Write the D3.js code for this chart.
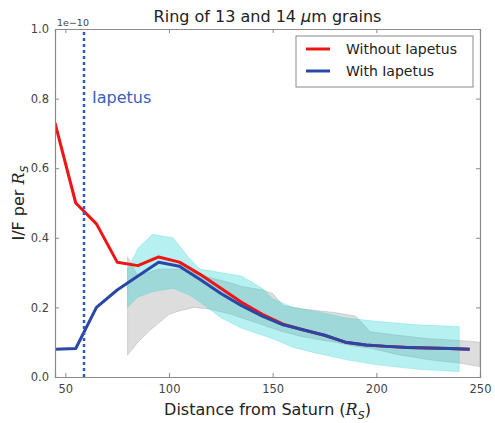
<!DOCTYPE html>
<html lang="en">
  <head>
    <meta charset="UTF-8" />
    <title>Ring of 13 and 14 um grains</title>
    <script src="https://d3js.org/d3.v7.min.js"></script>
    <style>
      body {
        margin: 0;
        background: #fff;
        font-family: "DejaVu Sans", sans-serif;
      }
      svg {
        display: block;
      }
    </style>
  </head>
  <body>
    <div id="chart"></div>
    <script>
      // values (I/F in units of 1e-10)
      const distances = [45, 55, 65, 75, 85, 95, 105, 115, 125, 135, 145, 155, 165, 175, 185, 195, 205, 215, 225, 235, 245];
      const withoutIapetus = [0.73, 0.50, 0.44, 0.33, 0.32, 0.345, 0.33, 0.295, 0.255, 0.215, 0.18, 0.152, 0.135, 0.12, 0.10, 0.092, 0.088, 0.085, 0.083, 0.082, 0.08];
      const withIapetus = [0.08, 0.082, 0.20, 0.25, 0.29, 0.33, 0.318, 0.28, 0.24, 0.205, 0.175, 0.15, 0.135, 0.12, 0.10, 0.092, 0.088, 0.085, 0.083, 0.082, 0.08];

      // gray band (without Iapetus spread)
      const grayX = [80, 85, 90, 95, 100, 105, 112, 120, 130, 135, 145, 150, 155, 165, 180, 190, 197, 210, 225, 240, 250];
      const grayHi = [0.345, 0.29, 0.30, 0.31, 0.31, 0.31, 0.30, 0.285, 0.27, 0.26, 0.25, 0.24, 0.205, 0.195, 0.185, 0.175, 0.13, 0.12, 0.11, 0.105, 0.10];
      const grayLo = [0.063, 0.10, 0.13, 0.155, 0.18, 0.19, 0.20, 0.195, 0.18, 0.17, 0.15, 0.14, 0.13, 0.115, 0.10, 0.088, 0.083, 0.065, 0.05, 0.04, 0.03];

      // cyan band (with Iapetus spread)
      const cyanX = [80, 85, 92, 102, 110, 115, 125, 135, 145, 150, 160, 170, 185, 200, 220, 240];
      const cyanHi = [0.31, 0.37, 0.41, 0.40, 0.34, 0.31, 0.30, 0.29, 0.255, 0.225, 0.20, 0.19, 0.17, 0.16, 0.15, 0.145];
      const cyanLo = [0.20, 0.23, 0.245, 0.255, 0.235, 0.215, 0.17, 0.14, 0.12, 0.11, 0.085, 0.07, 0.05, 0.035, 0.022, 0.015];

      const iapetusDistance = 59;
      const xTicks = [50, 100, 150, 200, 250];
      const yTicks = [0.0, 0.2, 0.4, 0.6, 0.8, 1.0];

      const width = 495;
      const height = 423;
      const margin = { top: 29, right: 15, bottom: 46, left: 55 };

      const svg = d3
        .select("#chart")
        .append("svg")
        .attr("width", width)
        .attr("height", height)
        .style("font-family", "'DejaVu Sans', sans-serif");

      const x = d3
        .scaleLinear()
        .domain([45, 250])
        .range([margin.left, width - margin.right]);
      const y = d3
        .scaleLinear()
        .domain([0, 1])
        .range([height - margin.bottom, margin.top]);

      const clip = svg
        .append("clipPath")
        .attr("id", "plotClip")
        .append("rect")
        .attr("x", margin.left)
        .attr("y", margin.top)
        .attr("width", width - margin.left - margin.right)
        .attr("height", height - margin.top - margin.bottom);

      const plot = svg.append("g").attr("clip-path", "url(#plotClip)");

      const band = (xs, lo, hi) =>
        d3
          .area()
          .x((d, i) => x(xs[i]))
          .y0((d, i) => y(lo[i]))
          .y1((d, i) => y(hi[i]))(xs);

      plot
        .append("path")
        .attr("d", band(grayX, grayLo, grayHi))
        .attr("fill", "#bdbdbd")
        .attr("fill-opacity", 0.52)
        .attr("stroke", "#b0b0b0")
        .attr("stroke-opacity", 0.6)
        .attr("stroke-width", 0.8);

      plot
        .append("path")
        .attr("d", band(cyanX, cyanLo, cyanHi))
        .attr("fill", "#11cccc")
        .attr("fill-opacity", 0.3)
        .attr("stroke", "#11cccc")
        .attr("stroke-opacity", 0.25)
        .attr("stroke-width", 0.8);

      const line = (vals) =>
        d3
          .line()
          .x((d, i) => x(distances[i]))
          .y((d) => y(d))(vals);

      plot
        .append("path")
        .attr("d", line(withoutIapetus))
        .attr("fill", "none")
        .attr("stroke", "#f01414")
        .attr("stroke-width", 3)
        .attr("stroke-linejoin", "round");

      plot
        .append("path")
        .attr("d", line(withIapetus))
        .attr("fill", "none")
        .attr("stroke", "#2a47a6")
        .attr("stroke-width", 3)
        .attr("stroke-linejoin", "round");

      // Iapetus marker
      plot
        .append("line")
        .attr("x1", x(iapetusDistance))
        .attr("x2", x(iapetusDistance))
        .attr("y1", y(0))
        .attr("y2", y(1))
        .attr("stroke", "#2f5bbd")
        .attr("stroke-width", 2.5)
        .attr("stroke-dasharray", "3,3");

      svg
        .append("text")
        .attr("x", x(iapetusDistance) + 8)
        .attr("y", 103)
        .attr("fill", "#3a5fb8")
        .style("font-size", "16px")
        .text("Iapetus");

      // axes frame with inward ticks on all sides
      const spine = "#8a8a8a";
      const axes = [
        d3.axisBottom(x).tickValues(xTicks).tickSize(-4).tickPadding(8),
        d3.axisTop(x).tickValues(xTicks).tickSize(-4).tickFormat(""),
        d3.axisLeft(y).tickValues(yTicks).tickSize(-4).tickPadding(6).tickFormat(d3.format(".1f")),
        d3.axisRight(y).tickValues(yTicks).tickSize(-4).tickFormat(""),
      ];
      const pos = [
        `translate(0,${y(0)})`,
        `translate(0,${y(1)})`,
        `translate(${x(45)},0)`,
        `translate(${x(250)},0)`,
      ];
      axes.forEach((ax, i) => {
        const g = svg.append("g").attr("transform", pos[i]).call(ax);
        g.select(".domain").attr("stroke", spine).attr("stroke-width", 1.2);
        g.selectAll(".tick line").attr("stroke", spine);
        g.selectAll(".tick text")
          .attr("fill", "#444")
          .style("font-size", "11.5px")
          .style("font-family", "'DejaVu Sans', sans-serif");
      });

      svg
        .append("text")
        .attr("x", x(45) + 2)
        .attr("y", y(1) - 3)
        .attr("fill", "#444")
        .style("font-size", "9.5px")
        .text("1e\u221210");

      // title
      const title = svg
        .append("text")
        .attr("x", (x(45) + x(250)) / 2)
        .attr("y", 22)
        .attr("text-anchor", "middle")
        .attr("fill", "#222")
        .style("font-size", "16px");
      title.append("tspan").text("Ring of 13 and 14 ");
      title.append("tspan").style("font-style", "italic").text("\u03bc");
      title.append("tspan").text("m grains");

      // x label
      const xl = svg
        .append("text")
        .attr("x", (x(45) + x(250)) / 2)
        .attr("y", 415)
        .attr("text-anchor", "middle")
        .attr("fill", "#222")
        .style("font-size", "16px");
      xl.append("tspan").text("Distance from Saturn (");
      xl.append("tspan").style("font-style", "italic").style("font-family", "'DejaVu Serif', serif").text("R");
      xl.append("tspan").attr("dy", 4).style("font-size", "11px").style("font-style", "italic").text("S");
      xl.append("tspan").attr("dy", -4).text(")");

      // y label
      const yl = svg
        .append("text")
        .attr("transform", `translate(24,${(y(0) + y(1)) / 2}) rotate(-90)`)
        .attr("text-anchor", "middle")
        .attr("fill", "#222")
        .style("font-size", "16px");
      yl.append("tspan").text("I/F per ");
      yl.append("tspan").style("font-style", "italic").style("font-family", "'DejaVu Serif', serif").text("R");
      yl.append("tspan").attr("dy", 4).style("font-size", "11px").style("font-style", "italic").text("S");

      // legend
      const legendNames = ["Without Iapetus", "With Iapetus"];
      const legendColors = ["#f01414", "#2a47a6"];
      const lg = svg.append("g").attr("transform", "translate(296,36)");
      lg.append("rect")
        .attr("width", 177)
        .attr("height", 51)
        .attr("fill", "#fff")
        .attr("stroke", "#8a8a8a")
        .attr("stroke-width", 1);
      legendNames.forEach((name, i) => {
        lg.append("line")
          .attr("x1", 10)
          .attr("x2", 34)
          .attr("y1", 13 + i * 22)
          .attr("y2", 13 + i * 22)
          .attr("stroke", legendColors[i])
          .attr("stroke-width", 3);
        lg.append("text")
          .attr("x", 50)
          .attr("y", 18 + i * 22)
          .attr("fill", "#222")
          .style("font-size", "14px")
          .text(name);
      });
    </script>
  </body>
</html>
